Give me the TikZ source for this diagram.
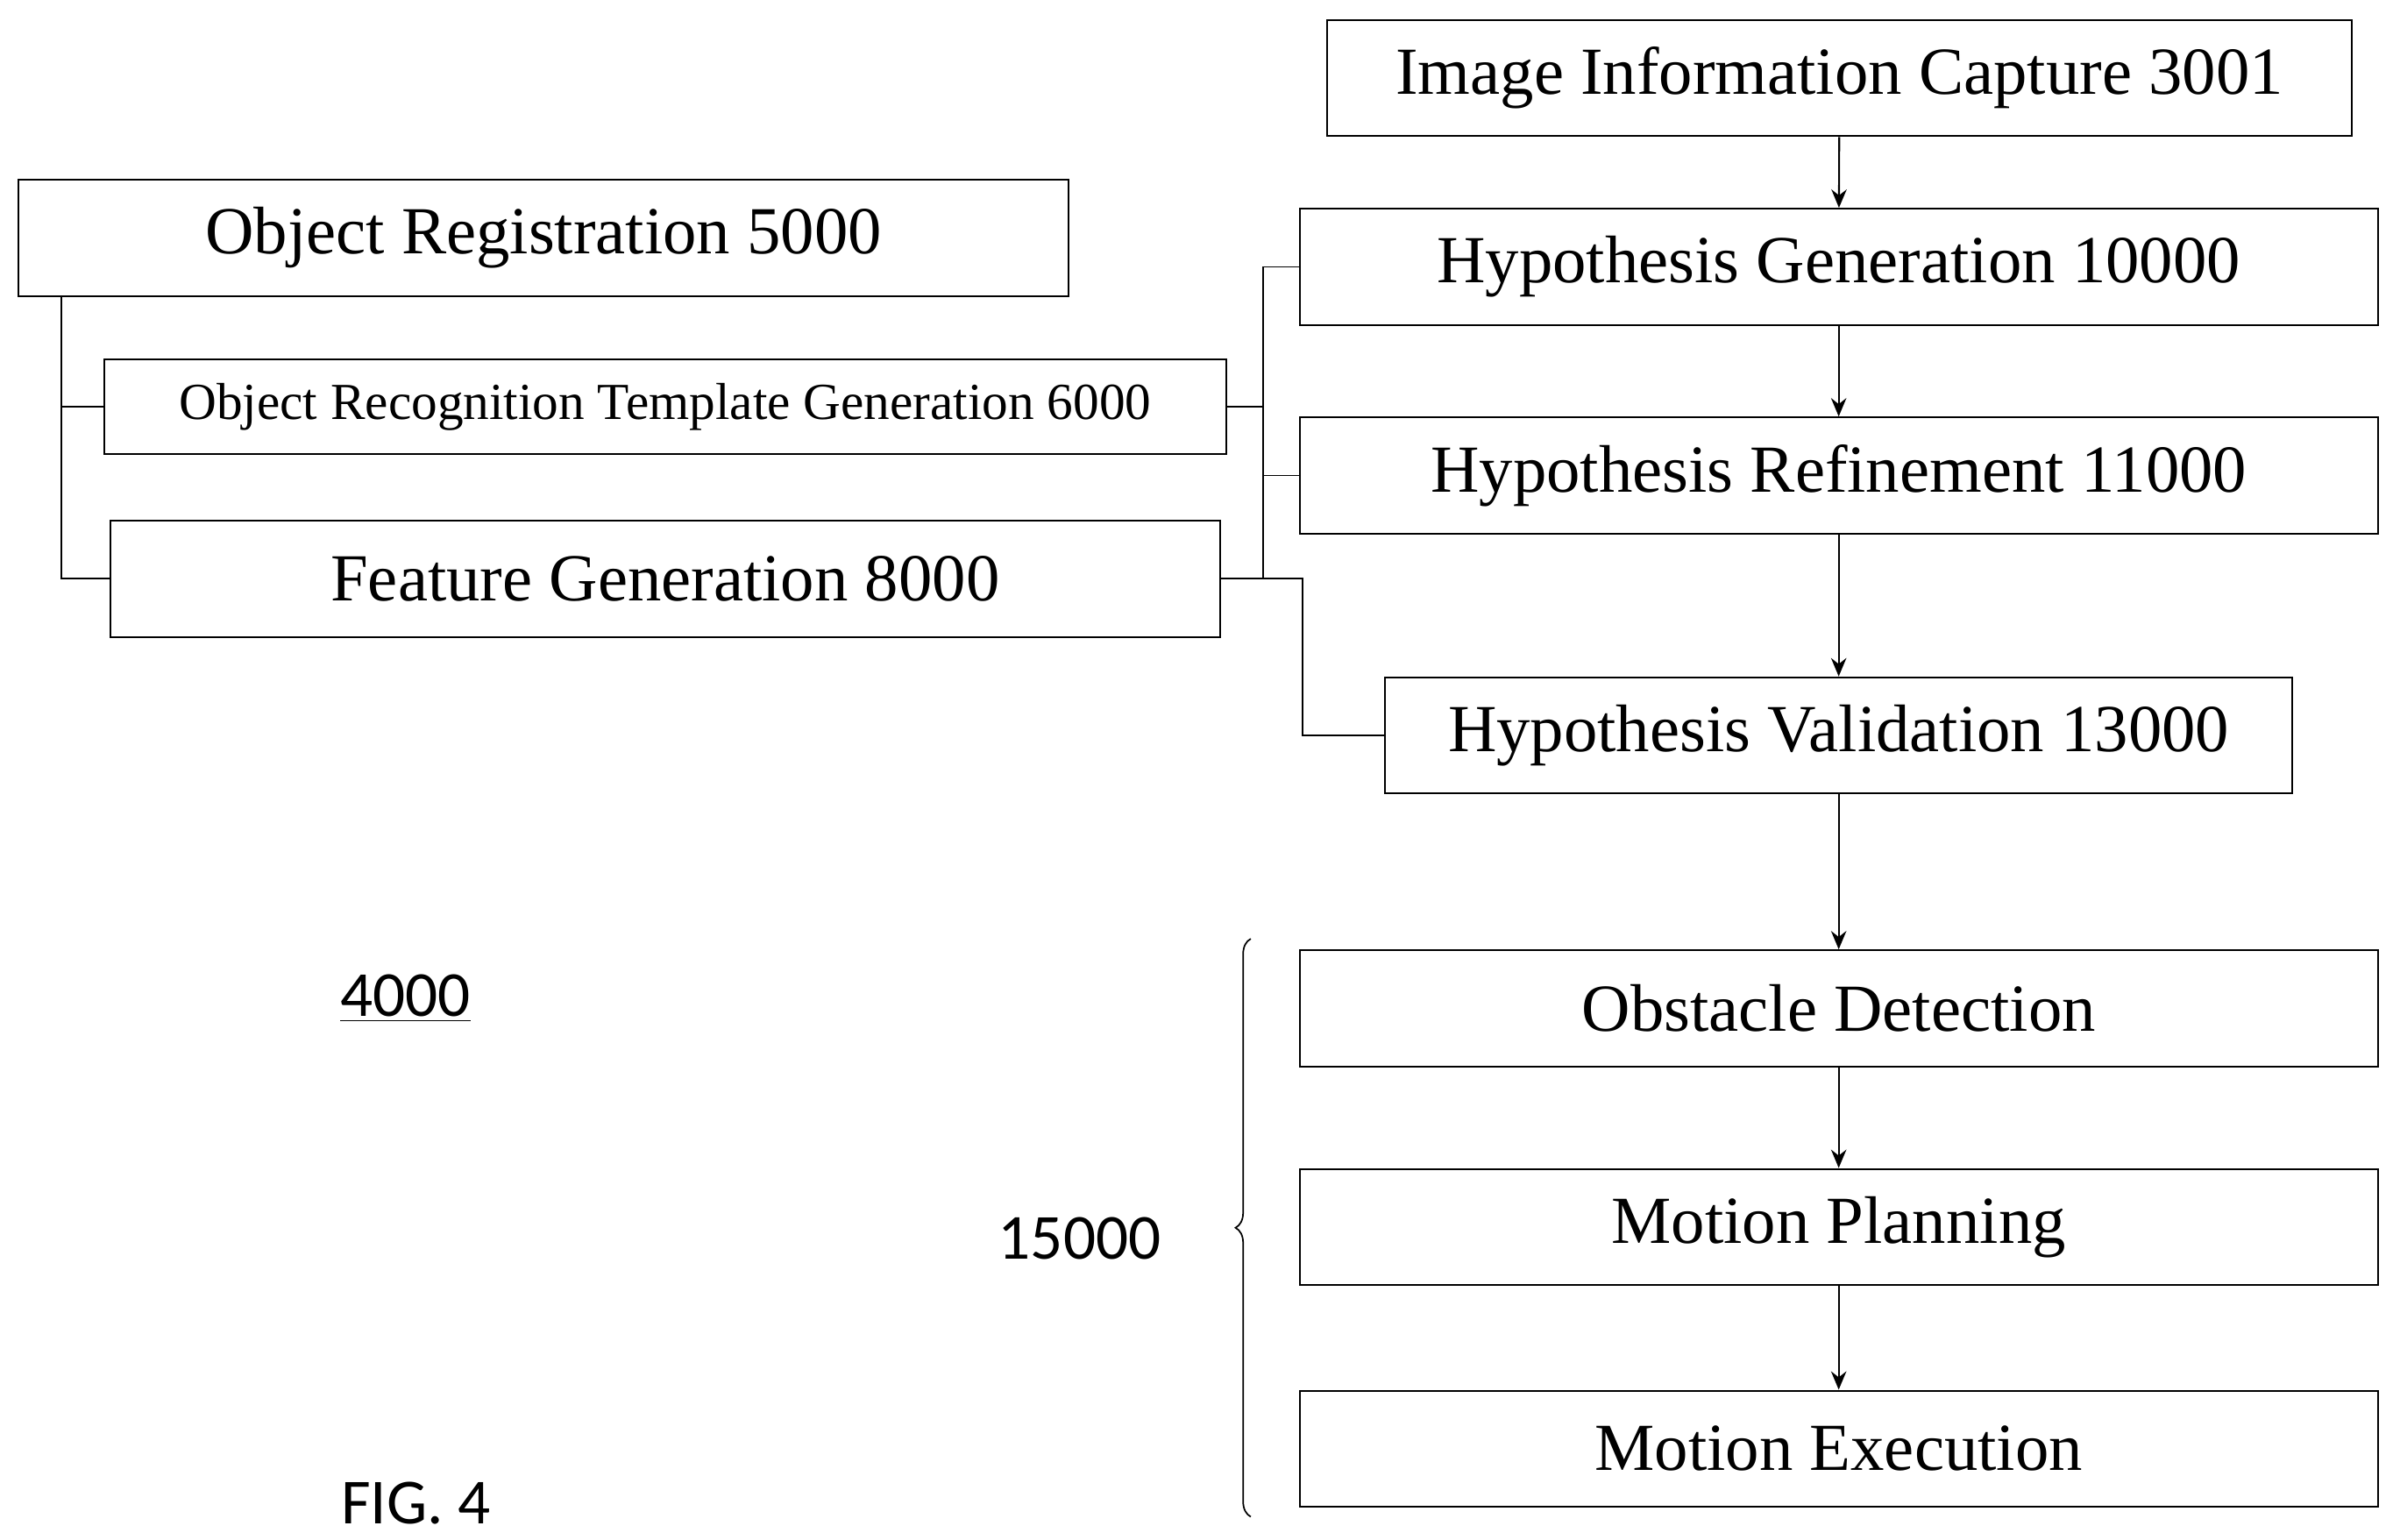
\documentclass[tikz,border=0pt]{standalone}
\usepackage{fontspec}
\setmainfont{Liberation Serif}
\newfontfamily\calib{Carlito}
\usetikzlibrary{arrows.meta,decorations.pathreplacing}
\begin{document}
\begin{tikzpicture}[x=0.5pt,y=-0.5pt,
 box/.style={draw,line width=0.6pt,minimum height=38pt,inner sep=0pt,font=\fontsize{22}{24}\selectfont},
 con/.style={line width=0.5pt},
 arr/.style={line width=0.6pt,-{Stealth[length=6pt,width=5pt]}},
 lab/.style={font=\calib\fontsize{21}{24}\selectfont}]
\useasboundingbox (0,0) rectangle (1565,1007);
\node[box,minimum width=335pt] (iic) at (1203,51) {Image Information Capture 3001};
\node[box,minimum width=343.5pt] (or) at (355.5,155.5) {Object Registration 5000};
\node[box,minimum width=352.5pt] (hg) at (1202.5,174.5) {Hypothesis Generation 10000};
\node[box,minimum width=367pt,minimum height=31pt,font=\fontsize{17}{20}\selectfont] (ortg) at (435,266) {Object Recognition Template Generation 6000};
\node[box,minimum width=352.5pt] (hr) at (1202.5,311) {Hypothesis Refinement 11000};
\node[box,minimum width=363pt] (fg) at (435,378.5) {Feature Generation 8000};
\node[box,minimum width=296.5pt] (hv) at (1202.5,481) {Hypothesis Validation 13000};
\node[box,minimum width=352.5pt] (od) at (1202.5,659.5) {Obstacle Detection};
\node[box,minimum width=352.5pt] (mp) at (1202.5,802.5) {Motion Planning};
\node[box,minimum width=352.5pt] (me) at (1202.5,947.5) {Motion Execution};
\node[lab] (n4000) at (265,653) {\underline{4000}};
\node[lab] (n15000) at (706,810) {15000};
\node[lab] (fig) at (272,983) {FIG. 4};
\coordinate (L) at (40,0);
\coordinate (M) at (826,0);
\coordinate (R) at (852,0);
\draw[con] (or.south -| L) |- (fg.west);
\draw[con] (L |- ortg.west) -- (ortg.west);
\draw[con] (ortg.east) -- (M |- ortg.east);
\draw[con] (fg.east) -- (R |- fg.east) |- (hv.west);
\draw[con] (hg.west) -- (M |- hg.west) -- (M |- fg.east);
\draw[con] (M |- hr.west) -- (hr.west);
\draw[arr] (iic) -- (hg);
\draw[arr] (hg) -- (hr);
\draw[arr] (hr) -- (hv);
\draw[arr] (hv) -- (od);
\draw[arr] (od) -- (mp);
\draw[arr] (mp) -- (me);
\coordinate (b1) at (818,614);
\coordinate (b2) at (818,992);
\draw[con,decorate,decoration={brace,mirror,amplitude=5pt}] (b1) -- (b2);
\end{tikzpicture}
\end{document}
